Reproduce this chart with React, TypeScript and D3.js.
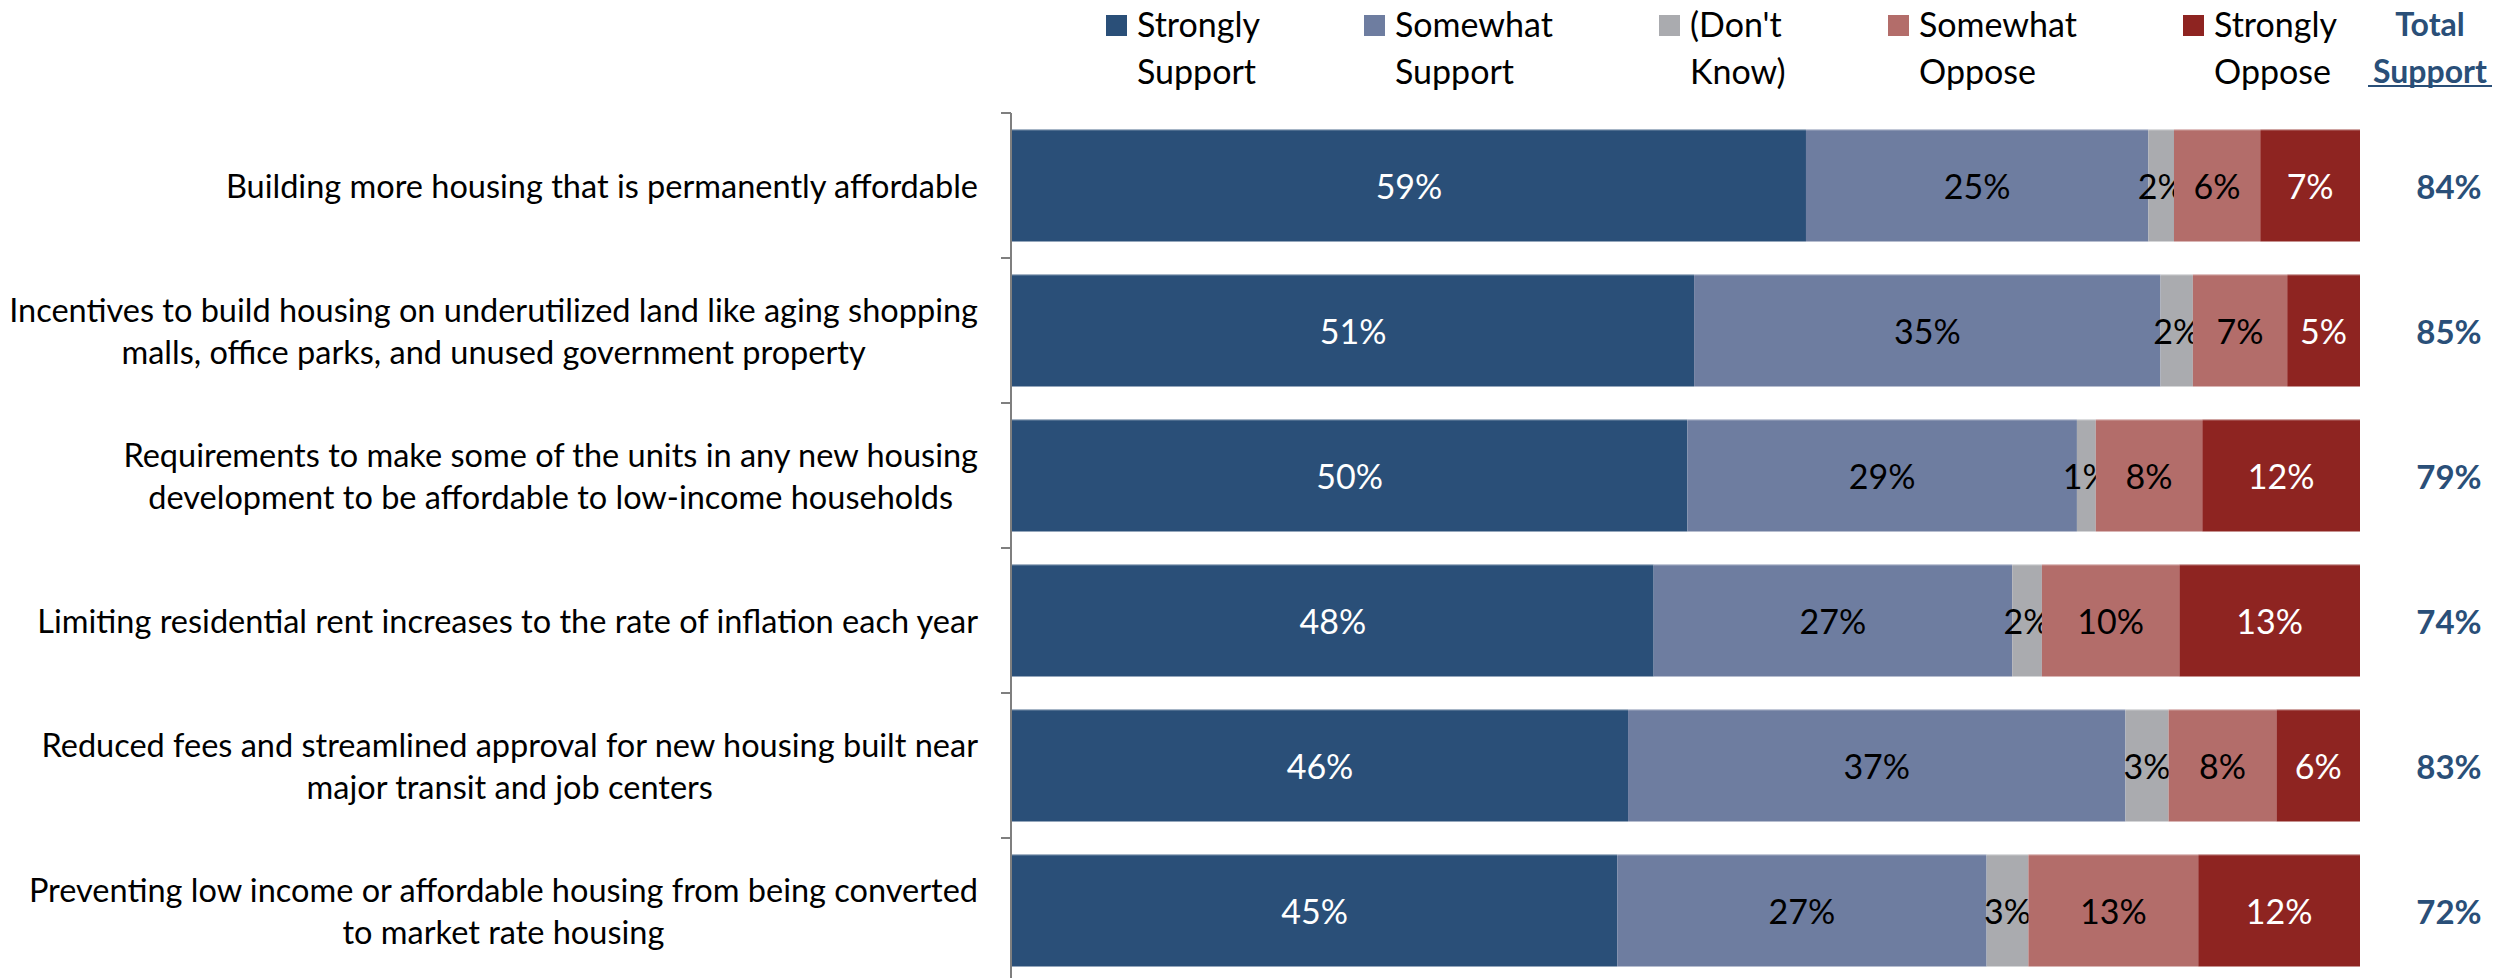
import React, { useEffect, useRef } from 'react';
import * as d3 from 'd3';

const categories: string[][] = [
  ['Building more housing that is permanently affordable'],
  ['Incentives to build housing on underutilized land like aging shopping', 'malls, office parks, and unused government property'],
  ['Requirements to make some of the units in any new housing', 'development to be affordable to low-income households'],
  ['Limiting residential rent increases to the rate of inflation each year'],
  ['Reduced fees and streamlined approval for new housing built near', 'major transit and job centers'],
  ['Preventing low income or affordable housing from being converted', 'to market rate housing'],
];

const seriesNames: string[][] = [
  ['Strongly', 'Support'],
  ['Somewhat', 'Support'],
  ["(Don't", 'Know)'],
  ['Somewhat', 'Oppose'],
  ['Strongly', 'Oppose'],
];

const stronglySupport = [58.9, 50.6, 50.1, 47.6, 45.7, 44.9];
const somewhatSupport = [25.4, 34.6, 28.9, 26.6, 36.9, 27.4];
const dontKnow = [1.9, 2.4, 1.4, 2.2, 3.2, 3.1];
const somewhatOppose = [6.4, 7.0, 7.9, 10.2, 8.0, 12.6];
const stronglyOppose = [7.4, 5.4, 11.7, 13.4, 6.2, 12.0];
const totalSupport = [84, 85, 79, 74, 83, 72];

const seriesColors = ['#2A4F78', '#6E7DA0', '#AAABAF', '#B36D6A', '#8E2421'];
const labelColors = ['#FFFFFF', '#000000', '#000000', '#000000', '#FFFFFF'];
const totalColor = '#2A4F78';

const W = 2506;
const H = 978;
const FONT = 'Lato, Calibri, "Open Sans", sans-serif';

export default function App() {
  const ref = useRef<SVGSVGElement | null>(null);

  useEffect(() => {
    const svg = d3.select(ref.current);
    svg.selectAll('*').remove();

    const series = [stronglySupport, somewhatSupport, dontKnow, somewhatOppose, stronglyOppose];
    const rows = categories.map((_, i) => series.map((s) => s[i]));

    const x = d3.scaleLinear().domain([0, 100]).range([1012, 2360]);
    const y = d3
      .scaleBand<number>()
      .domain(d3.range(categories.length))
      .range([113, 983])
      .paddingInner(0.2276)
      .paddingOuter(0.1138);

    const step = y.step();
    const top = y.range()[0];

    // bars
    const gBars = svg.append('g');
    rows.forEach((vals, i) => {
      let cum = 0;
      vals.forEach((v, k) => {
        const x0 = x(cum);
        const x1 = x(cum + v);
        cum += v;
        gBars
          .append('rect')
          .attr('x', x0)
          .attr('y', y(i)!)
          .attr('width', x1 - x0)
          .attr('height', y.bandwidth())
          .attr('fill', seriesColors[k]);
        gBars
          .append('text')
          .attr('x', (x0 + x1) / 2)
          .attr('y', y(i)! + y.bandwidth() / 2)
          .attr('text-anchor', 'middle')
          .attr('dominant-baseline', 'central')
          .attr('font-family', FONT)
          .attr('font-size', 34)
          .attr('fill', labelColors[k])
          .text(`${Math.round(v)}%`);
      });
      gBars
        .append('line')
        .attr('x1', x(0))
        .attr('x2', x(100))
        .attr('y1', y(i)! + 0.5)
        .attr('y2', y(i)! + 0.5)
        .attr('stroke', 'rgba(255,255,255,0.35)')
        .attr('stroke-width', 1);

      // total support
      svg
        .append('text')
        .attr('x', 2449)
        .attr('y', y(i)! + y.bandwidth() / 2)
        .attr('text-anchor', 'middle')
        .attr('dominant-baseline', 'central')
        .attr('font-family', FONT)
        .attr('font-size', 33)
        .attr('font-weight', 'bold')
        .attr('fill', totalColor)
        .text(`${totalSupport[i]}%`);
    });

    // axis
    const axisX = 1011;
    const gAxis = svg.append('g').attr('stroke', '#7F7F7F').attr('stroke-width', 2);
    gAxis.append('line').attr('x1', axisX).attr('x2', axisX).attr('y1', top).attr('y2', H + 10);
    d3.range(categories.length + 1).forEach((j) => {
      const ty = top + j * step;
      gAxis.append('line').attr('x1', axisX - 10).attr('x2', axisX).attr('y1', ty).attr('y2', ty);
    });

    // category labels (right edge 978, lines centred in block)
    const rightEdge = 978;
    const lineGap = 42;
    categories.forEach((lines, i) => {
      const cy = y(i)! + y.bandwidth() / 2;
      const g = svg.append('g');
      const texts = lines.map((ln, li) =>
        g
          .append('text')
          .attr('y', cy + (li - (lines.length - 1) / 2) * lineGap)
          .attr('text-anchor', 'middle')
          .attr('dominant-baseline', 'central')
          .attr('font-family', FONT)
          .attr('font-size', 32.5)
          .attr('fill', '#000')
          .text(ln)
      );
      const widths = texts.map((t) => (t.node() as SVGTextElement).getComputedTextLength());
      const maxW = d3.max(widths) || 0;
      const cx = rightEdge - maxW / 2;
      texts.forEach((t) => t.attr('x', cx));
    });

    // legend
    const legendX = [1106, 1364, 1659, 1888, 2183];
    seriesNames.forEach((nm, k) => {
      const lx = legendX[k];
      svg.append('rect').attr('x', lx).attr('y', 15).attr('width', 21).attr('height', 21).attr('fill', seriesColors[k]);
      nm.forEach((ln, li) => {
        svg
          .append('text')
          .attr('x', lx + 31)
          .attr('y', 37 + li * 47)
          .attr('font-family', FONT)
          .attr('font-size', 34)
          .attr('fill', '#000')
          .text(ln);
      });
    });

    // Total Support header
    ['Total', 'Support'].forEach((ln, li) => {
      svg
        .append('text')
        .attr('x', 2430)
        .attr('y', 36 + li * 47)
        .attr('text-anchor', 'middle')
        .attr('font-family', FONT)
        .attr('font-size', 32)
        .attr('font-weight', 'bold')
        .attr('fill', totalColor)
        .text(ln);
    });
    svg
      .append('line')
      .attr('x1', 2368)
      .attr('x2', 2492)
      .attr('y1', 86)
      .attr('y2', 86)
      .attr('stroke', totalColor)
      .attr('stroke-width', 2);
  }, []);

  return (
    <svg
      ref={ref}
      width={W}
      height={H}
      style={{ position: 'absolute', left: 0, top: 0, background: '#fff' }}
    />
  );
}
